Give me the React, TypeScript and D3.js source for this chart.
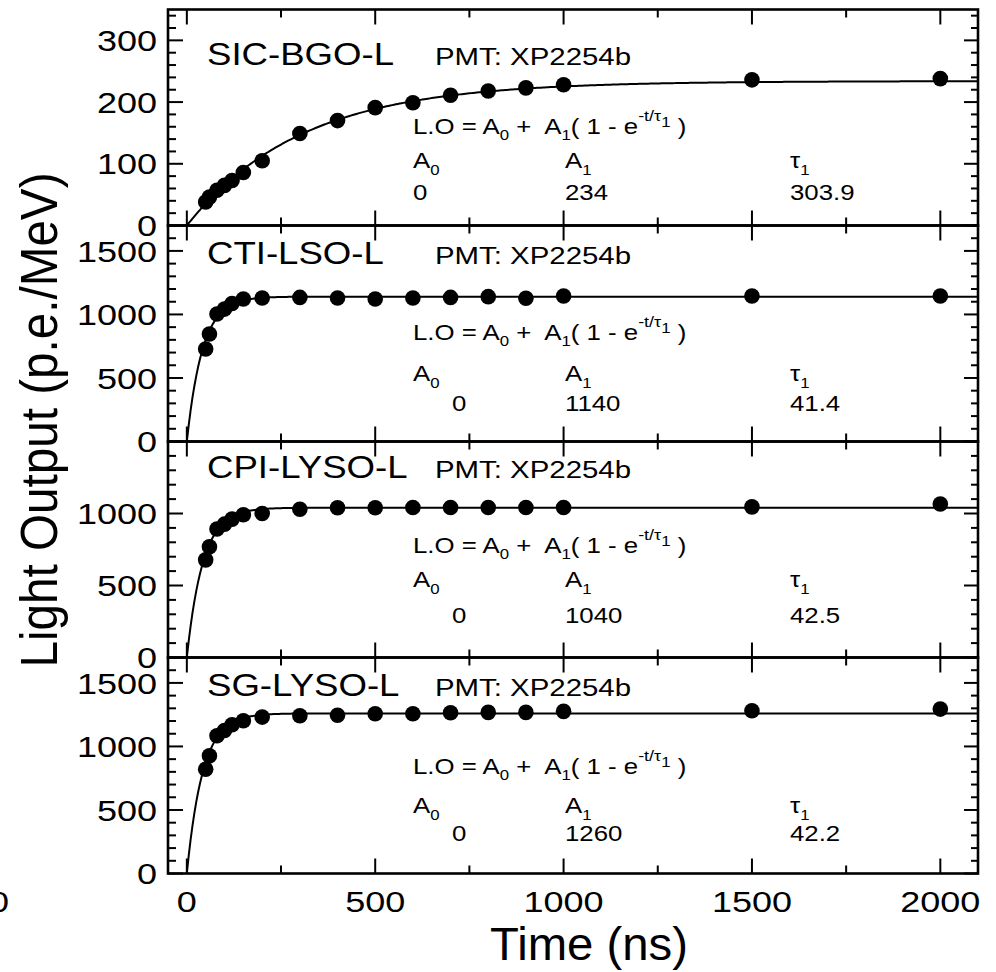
import React from "react";
import * as d3 from "d3";

// ---------- data ----------
const times = [50, 60, 80, 100, 120, 150, 200, 300, 400, 500, 600, 700, 800, 900, 1000, 1500, 2000];
const sicBgo = [38, 46, 57, 65, 73, 86, 105, 149, 170, 191, 199, 211, 218, 223, 228, 236, 238];
const ctiLso = [728, 846, 1003, 1042, 1086, 1121, 1129, 1134, 1129, 1121, 1129, 1134, 1140, 1128, 1145, 1145, 1145];
const cpiLyso = [678, 769, 892, 926, 961, 991, 1000, 1030, 1040, 1040, 1042, 1042, 1042, 1042, 1042, 1046, 1066];
const sgLyso = [821, 926, 1084, 1126, 1171, 1202, 1231, 1241, 1245, 1257, 1257, 1265, 1268, 1268, 1276, 1281, 1294];

const crystalNames = ["SIC-BGO-L", "CTI-LSO-L", "CPI-LYSO-L", "SG-LYSO-L"];
const pmtLabel = "PMT: XP2254b";
const fitA0 = [0, 0, 0, 0];
const fitA1 = [234, 1140, 1040, 1260];
const fitTau = [303.9, 41.4, 42.5, 42.2];
const fitA1Text = ["234", "1140", "1040", "1260"];
const fitTauText = ["303.9", "41.4", "42.5", "42.2"];

const yMax = [350, 1700, 1500, 1700];
const yMajor = [100, 500, 500, 500];
const yMinor = [20, 100, 100, 100];
const yLabels = [
  [0, 100, 200, 300],
  [0, 500, 1000, 1500],
  [0, 500, 1000],
  [0, 500, 1000, 1500],
];
const xDomain = [-50, 2100];
const xMajorTicks = [0, 500, 1000, 1500, 2000];
const xMinorTicks = [250, 750, 1250, 1750];
const xTitle = "Time (ns)";
const yTitle = "Light Output (p.e./MeV)";

const series = [sicBgo, ctiLso, cpiLyso, sgLyso];

// ---------- layout ----------
const W = 996;
const H = 972;
const left = 168;
const right = 978;
const panelTops = [9.5, 225.5, 441.5, 657.5];
const panelH = 216;
const SX = 1.2; // horizontal stretch of the original font
const FONT = "'Liberation Sans', Arial, Helvetica, sans-serif";

// text offsets relative to panel top
const titleOff = [55.5, 38, 36, 38];
const formulaOff = [124.5, 114, 111, 116];
const paramOff = [158.5, 155, 145, 155];
const valueOff = [190.5, 185, 181, 183];
const a0ValueX = [413, 452, 452, 452];

function SText({ x, y, size, anchor = "start", children }: any) {
  return (
    <text
      transform={`translate(${x},${y}) scale(${SX},1)`}
      fontSize={size}
      textAnchor={anchor}
      fontFamily={FONT}
      fill="#000"
      style={{ whiteSpace: "pre" }}
    >
      {children}
    </text>
  );
}

function Panel({ i }: { i: number }) {
  const top = panelTops[i];
  const bottom = top + panelH;
  const x = d3.scaleLinear().domain(xDomain).range([left, right]);
  const y = d3.scaleLinear().domain([0, yMax[i]]).range([bottom, top]);
  const data = times.map((t, k) => ({ t, v: series[i][k] }));
  const fitPts = d3.range(0, 2101, 5).map((t) => ({
    t,
    v: fitA0[i] + fitA1[i] * (1 - Math.exp(-t / fitTau[i])),
  }));
  const line = d3
    .line<{ t: number; v: number }>()
    .x((d) => x(d.t))
    .y((d) => y(d.v));
  const majorY = d3.range(0, yMax[i] + 0.001, yMajor[i]);
  const minorY = d3
    .range(0, yMax[i] + 0.001, yMinor[i])
    .filter((v) => Math.abs(v / yMajor[i] - Math.round(v / yMajor[i])) > 1e-6);
  const clipId = `clip${i}`;
  const fs = 21.5;
  const ss = 14;
  return (
    <g>
      <defs>
        <clipPath id={clipId}>
          <rect x={left} y={top} width={right - left} height={panelH} />
        </clipPath>
      </defs>
      {/* ticks */}
      <g stroke="#000" strokeWidth={2}>
        {xMajorTicks.map((t) => (
          <g key={"xM" + t}>
            <line x1={x(t)} x2={x(t)} y1={bottom} y2={bottom - 15} />
            <line x1={x(t)} x2={x(t)} y1={top} y2={top + 15} />
          </g>
        ))}
        {xMinorTicks.map((t) => (
          <g key={"xm" + t}>
            <line x1={x(t)} x2={x(t)} y1={bottom} y2={bottom - 8} />
            <line x1={x(t)} x2={x(t)} y1={top} y2={top + 8} />
          </g>
        ))}
        {majorY.map((v) => (
          <g key={"yM" + v}>
            <line x1={left} x2={left + 15} y1={y(v)} y2={y(v)} />
            <line x1={right} x2={right - 14} y1={y(v)} y2={y(v)} />
          </g>
        ))}
        {minorY.map((v) => (
          <g key={"ym" + v}>
            <line x1={left} x2={left + 8} y1={y(v)} y2={y(v)} />
            <line x1={right} x2={right - 7} y1={y(v)} y2={y(v)} />
          </g>
        ))}
      </g>
      {/* fit curve */}
      <path d={line(fitPts) || ""} fill="none" stroke="#000" strokeWidth={2} clipPath={`url(#${clipId})`} />
      {/* points */}
      {data.map((d, k) => (
        <circle key={k} cx={x(d.t)} cy={y(d.v)} r={7.8} fill="#000" />
      ))}
      {/* frame */}
      <rect x={left} y={top} width={right - left} height={panelH} fill="none" stroke="#000" strokeWidth={2.6} />
      {/* y tick labels */}
      {yLabels[i].map((v) => (
        <SText key={"yl" + v} x={157} y={y(v) + 10.7} size={30} anchor="end">
          {String(v)}
        </SText>
      ))}
      {/* annotations */}
      <SText x={207} y={top + titleOff[i]} size={30.5}>
        {crystalNames[i]}
      </SText>
      <SText x={435} y={top + titleOff[i]} size={24.5}>
        {pmtLabel}
      </SText>
      <SText x={413} y={top + formulaOff[i]} size={fs}>
        <tspan>L.O = A</tspan>
        <tspan fontSize={ss} dy={6}>0</tspan>
        <tspan dy={-6}>{" +  A"}</tspan>
        <tspan fontSize={ss} dy={6}>1</tspan>
        <tspan dy={-6}>{"( 1 - e"}</tspan>
        <tspan fontSize={15} dy={-13}>-t/τ</tspan>
        <tspan fontSize={14} dy={6}>1</tspan>
        <tspan dy={7}>{" )"}</tspan>
      </SText>
      <SText x={413} y={top + paramOff[i]} size={fs}>
        <tspan>A</tspan>
        <tspan fontSize={ss} dy={7}>0</tspan>
      </SText>
      <SText x={565} y={top + paramOff[i]} size={fs}>
        <tspan>A</tspan>
        <tspan fontSize={ss} dy={7}>1</tspan>
      </SText>
      <SText x={790} y={top + paramOff[i]} size={fs}>
        <tspan>τ</tspan>
        <tspan fontSize={ss} dy={7}>1</tspan>
      </SText>
      <SText x={a0ValueX[i]} y={top + valueOff[i]} size={fs}>
        {String(fitA0[i])}
      </SText>
      <SText x={565} y={top + valueOff[i]} size={fs}>
        {fitA1Text[i]}
      </SText>
      <SText x={790} y={top + valueOff[i]} size={fs}>
        {fitTauText[i]}
      </SText>
    </g>
  );
}

export default function App() {
  const x = d3.scaleLinear().domain(xDomain).range([left, right]);
  return (
    <svg width={W} height={H} style={{ display: "block", position: "absolute", left: 0, top: 0, background: "#fff" }}>
      <rect width={W} height={H} fill="#fff" />
      {[0, 1, 2, 3].map((i) => (
        <Panel key={i} i={i} />
      ))}
      {xMajorTicks.map((t) => (
        <SText key={"xl" + t} x={x(t)} y={912} size={30} anchor="middle">
          {String(t)}
        </SText>
      ))}
      {/* stray partially visible label at far left */}
      <SText x={-1} y={912} size={30} anchor="middle">
        0
      </SText>
      <text
        x={589}
        y={960}
        fontSize={46}
        textAnchor="middle"
        fontFamily={FONT}
        textLength={198}
        lengthAdjust="spacingAndGlyphs"
      >
        {xTitle}
      </text>
      <text
        transform={`translate(57,420) rotate(-90)`}
        fontSize={51}
        textAnchor="middle"
        fontFamily={FONT}
        textLength={495}
        lengthAdjust="spacingAndGlyphs"
      >
        {yTitle}
      </text>
    </svg>
  );
}
